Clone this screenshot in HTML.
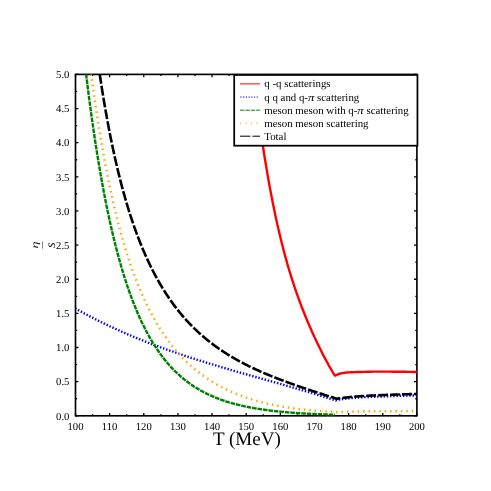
<!DOCTYPE html>
<html><head><meta charset="utf-8"><title>eta/s vs T</title>
<style>html,body{margin:0;padding:0;background:#fff;}body{width:491px;height:491px;position:relative;overflow:hidden;font-family:"Liberation Serif",serif;}svg{position:absolute;left:0;top:0;display:block;will-change:transform;}text{text-rendering:geometricPrecision;}</style></head><body>
<svg width="491" height="491" viewBox="0 0 491 491">
<rect x="0" y="0" width="491" height="491" fill="#fff"/>
<defs><clipPath id="c"><rect x="75.5" y="74.4" width="341.40" height="341.40"/></clipPath></defs>
<path d="M75.50 415.8 v-2.9 M75.50 74.4 v2.9 M92.57 415.8 v-1.6 M92.57 74.4 v1.6 M109.64 415.8 v-2.9 M109.64 74.4 v2.9 M126.71 415.8 v-1.6 M126.71 74.4 v1.6 M143.78 415.8 v-2.9 M143.78 74.4 v2.9 M160.85 415.8 v-1.6 M160.85 74.4 v1.6 M177.92 415.8 v-2.9 M177.92 74.4 v2.9 M194.99 415.8 v-1.6 M194.99 74.4 v1.6 M212.06 415.8 v-2.9 M212.06 74.4 v2.9 M229.13 415.8 v-1.6 M229.13 74.4 v1.6 M246.20 415.8 v-2.9 M246.20 74.4 v2.9 M263.27 415.8 v-1.6 M263.27 74.4 v1.6 M280.34 415.8 v-2.9 M280.34 74.4 v2.9 M297.41 415.8 v-1.6 M297.41 74.4 v1.6 M314.48 415.8 v-2.9 M314.48 74.4 v2.9 M331.55 415.8 v-1.6 M331.55 74.4 v1.6 M348.62 415.8 v-2.9 M348.62 74.4 v2.9 M365.69 415.8 v-1.6 M365.69 74.4 v1.6 M382.76 415.8 v-2.9 M382.76 74.4 v2.9 M399.83 415.8 v-1.6 M399.83 74.4 v1.6 M416.90 415.8 v-2.9 M416.90 74.4 v2.9 M75.5 415.80 h2.9 M416.9 415.80 h-2.9 M75.5 398.73 h1.6 M416.9 398.73 h-1.6 M75.5 381.66 h2.9 M416.9 381.66 h-2.9 M75.5 364.59 h1.6 M416.9 364.59 h-1.6 M75.5 347.52 h2.9 M416.9 347.52 h-2.9 M75.5 330.45 h1.6 M416.9 330.45 h-1.6 M75.5 313.38 h2.9 M416.9 313.38 h-2.9 M75.5 296.31 h1.6 M416.9 296.31 h-1.6 M75.5 279.24 h2.9 M416.9 279.24 h-2.9 M75.5 262.17 h1.6 M416.9 262.17 h-1.6 M75.5 245.10 h2.9 M416.9 245.10 h-2.9 M75.5 228.03 h1.6 M416.9 228.03 h-1.6 M75.5 210.96 h2.9 M416.9 210.96 h-2.9 M75.5 193.89 h1.6 M416.9 193.89 h-1.6 M75.5 176.82 h2.9 M416.9 176.82 h-2.9 M75.5 159.75 h1.6 M416.9 159.75 h-1.6 M75.5 142.68 h2.9 M416.9 142.68 h-2.9 M75.5 125.61 h1.6 M416.9 125.61 h-1.6 M75.5 108.54 h2.9 M416.9 108.54 h-2.9 M75.5 91.47 h1.6 M416.9 91.47 h-1.6 M75.5 74.40 h2.9 M416.9 74.40 h-2.9" stroke="#000" stroke-width="1.3" fill="none"/>
<rect x="75.5" y="74.4" width="341.40" height="341.40" fill="none" stroke="#000" stroke-width="1.65" stroke-linejoin="miter"/>
<g clip-path="url(#c)" fill="none" stroke-linejoin="round">
<path d="M253.26 74.00 L253.30 74.37 L253.60 76.85 L253.90 79.32 L254.19 81.77 L254.49 84.19 L254.78 86.60 L255.08 89.00 L255.38 91.37 L255.67 93.73 L255.97 96.06 L256.26 98.38 L256.56 100.69 L256.86 102.97 L257.15 105.24 L257.45 107.49 L257.74 109.72 L258.04 111.94 L258.34 114.14 L258.63 116.32 L258.93 118.49 L259.22 120.63 L259.52 122.77 L259.82 124.88 L260.11 126.98 L260.41 129.06 L260.70 131.13 L261.00 133.18 L261.30 135.21 L261.59 137.23 L261.89 139.23 L262.18 141.21 L262.48 143.18 L262.78 145.14 L263.07 147.08 L263.37 149.00 L263.66 150.91 L263.96 152.80 L264.26 154.68 L264.55 156.54 L264.85 158.39 L265.14 160.22 L265.44 162.04 L265.74 163.85 L266.03 165.64 L266.33 167.41 L266.62 169.17 L266.92 170.92 L267.22 172.65 L267.51 174.37 L267.81 176.08 L268.10 177.77 L268.40 179.45 L268.69 181.12 L268.99 182.77 L269.29 184.41 L269.58 186.04 L269.88 187.65 L270.17 189.25 L270.47 190.84 L270.77 192.41 L271.06 193.98 L271.36 195.53 L271.65 197.06 L271.95 198.59 L272.25 200.10 L272.54 201.61 L272.84 203.10 L273.13 204.57 L273.43 206.04 L273.73 207.50 L274.02 208.94 L274.32 210.37 L274.61 211.79 L274.91 213.20 L275.21 214.60 L275.50 215.99 L275.80 217.37 L276.09 218.74 L276.39 220.09 L276.69 221.44 L276.98 222.78 L277.28 224.10 L277.57 225.42 L277.87 226.72 L278.17 228.02 L278.46 229.30 L278.76 230.58 L279.05 231.84 L279.35 233.10 L279.65 234.35 L279.94 235.59 L280.24 236.81 L280.53 238.03 L280.83 239.24 L281.13 240.45 L281.42 241.64 L281.72 242.82 L282.01 244.00 L282.31 245.16 L282.61 246.32 L282.90 247.47 L283.20 248.61 L283.49 249.74 L283.79 250.87 L284.09 251.99 L284.38 253.09 L284.68 254.20 L284.97 255.29 L285.27 256.37 L285.57 257.45 L285.86 258.52 L286.16 259.58 L286.45 260.64 L286.75 261.69 L287.05 262.73 L287.34 263.76 L287.64 264.79 L287.93 265.81 L288.23 266.82 L288.53 267.83 L288.82 268.83 L289.12 269.82 L289.41 270.81 L289.71 271.79 L290.01 272.76 L290.30 273.73 L290.60 274.69 L290.89 275.64 L291.19 276.59 L291.49 277.53 L291.78 278.47 L292.08 279.40 L292.37 280.33 L292.67 281.25 L292.97 282.16 L293.26 283.07 L293.56 283.97 L293.85 284.87 L294.15 285.76 L294.45 286.64 L294.74 287.52 L295.04 288.40 L295.33 289.27 L295.63 290.13 L295.93 291.00 L296.22 291.85 L296.52 292.70 L296.81 293.55 L297.11 294.39 L297.41 295.22 L297.70 296.05 L298.00 296.88 L298.29 297.70 L298.59 298.52 L298.89 299.33 L299.18 300.14 L299.48 300.95 L299.77 301.75 L300.07 302.54 L300.37 303.33 L300.66 304.12 L300.96 304.91 L301.25 305.69 L301.55 306.46 L301.85 307.23 L302.14 308.00 L302.44 308.76 L302.73 309.52 L303.03 310.28 L303.33 311.03 L303.62 311.78 L303.92 312.53 L304.21 313.27 L304.51 314.01 L304.81 314.74 L305.10 315.48 L305.40 316.20 L305.69 316.93 L305.99 317.65 L306.29 318.37 L306.58 319.08 L306.88 319.80 L307.17 320.50 L307.47 321.21 L307.77 321.91 L308.06 322.61 L308.36 323.31 L308.65 324.00 L308.95 324.69 L309.25 325.38 L309.54 326.06 L309.84 326.75 L310.13 327.42 L310.43 328.10 L310.73 328.77 L311.02 329.44 L311.32 330.11 L311.61 330.78 L311.91 331.44 L312.21 332.10 L312.50 332.76 L312.80 333.41 L313.09 334.06 L313.39 334.71 L313.68 335.36 L313.98 336.00 L314.28 336.65 L314.57 337.29 L314.87 337.92 L315.16 338.56 L315.46 339.19 L315.76 339.82 L316.05 340.45 L316.35 341.07 L316.64 341.69 L316.94 342.32 L317.24 342.93 L317.53 343.55 L317.83 344.16 L318.12 344.77 L318.42 345.38 L318.72 345.99 L319.01 346.59 L319.31 347.20 L319.60 347.80 L319.90 348.39 L320.20 348.99 L320.49 349.58 L320.79 350.17 L321.08 350.76 L321.38 351.35 L321.68 351.93 L321.97 352.52 L322.27 353.10 L322.56 353.67 L322.86 354.25 L323.16 354.82 L323.45 355.40 L323.75 355.96 L324.04 356.53 L324.34 357.10 L324.64 357.66 L324.93 358.22 L325.23 358.78 L325.52 359.33 L325.82 359.89 L326.12 360.44 L326.41 360.99 L326.71 361.54 L327.00 362.08 L327.30 362.63 L327.60 363.17 L327.89 363.70 L328.19 364.24 L328.48 364.77 L328.78 365.31 L329.08 365.84 L329.37 366.36 L329.67 366.89 L329.96 367.41 L330.26 367.93 L330.56 368.45 L330.85 368.97 L331.15 369.48 L331.44 369.99 L331.74 370.50 L332.04 371.00 L332.33 371.51 L332.63 372.01 L332.92 372.51 L333.22 373.01 L333.52 373.50 L333.81 373.99 L334.11 374.48 L334.40 374.97 L334.70 375.45 L335.53 375.59 L336.36 375.07 L337.19 374.65 L338.02 374.28 L338.85 373.97 L339.68 373.72 L340.51 373.50 L341.34 373.30 L342.17 373.12 L343.00 372.96 L343.83 372.83 L344.66 372.72 L345.49 372.64 L346.32 372.57 L347.15 372.51 L347.98 372.45 L348.82 372.39 L349.65 372.35 L350.48 372.30 L351.31 372.26 L352.14 372.22 L352.97 372.18 L353.80 372.15 L354.63 372.12 L355.46 372.09 L356.29 372.06 L357.12 372.04 L357.95 372.01 L358.78 371.99 L359.61 371.97 L360.44 371.95 L361.27 371.93 L362.10 371.91 L362.93 371.90 L363.76 371.88 L364.59 371.86 L365.42 371.84 L366.25 371.82 L367.08 371.80 L367.91 371.78 L368.74 371.75 L369.57 371.73 L370.40 371.71 L371.23 371.69 L372.06 371.67 L372.89 371.65 L373.72 371.63 L374.55 371.62 L375.38 371.61 L376.22 371.60 L377.05 371.60 L377.88 371.60 L378.71 371.60 L379.54 371.60 L380.37 371.60 L381.20 371.61 L382.03 371.61 L382.86 371.61 L383.69 371.62 L384.52 371.62 L385.35 371.63 L386.18 371.63 L387.01 371.64 L387.84 371.64 L388.67 371.65 L389.50 371.66 L390.33 371.66 L391.16 371.67 L391.99 371.68 L392.82 371.68 L393.65 371.69 L394.48 371.70 L395.31 371.70 L396.14 371.71 L396.97 371.72 L397.80 371.72 L398.63 371.73 L399.46 371.74 L400.29 371.75 L401.12 371.76 L401.95 371.77 L402.78 371.78 L403.62 371.79 L404.45 371.80 L405.28 371.81 L406.11 371.82 L406.94 371.84 L407.77 371.85 L408.60 371.86 L409.43 371.87 L410.26 371.89 L411.09 371.90 L411.92 371.91 L412.75 371.93 L413.58 371.94 L414.41 371.96 L415.24 371.97 L416.07 371.99 L416.90 372.00" stroke="#ff0000" stroke-width="2.4"/>
<path d="M75.50 308.54 L76.37 309.03 L77.24 309.52 L78.11 310.00 L78.98 310.48 L79.85 310.96 L80.72 311.44 L81.59 311.92 L82.46 312.39 L83.34 312.87 L84.21 313.34 L85.08 313.80 L85.95 314.27 L86.82 314.73 L87.69 315.19 L88.56 315.65 L89.43 316.11 L90.30 316.56 L91.17 317.02 L92.04 317.47 L92.91 317.92 L93.78 318.36 L94.65 318.81 L95.52 319.25 L96.39 319.69 L97.26 320.13 L98.13 320.56 L99.01 321.00 L99.88 321.43 L100.75 321.86 L101.62 322.29 L102.49 322.72 L103.36 323.14 L104.23 323.56 L105.10 323.98 L105.97 324.40 L106.84 324.82 L107.71 325.23 L108.58 325.65 L109.45 326.06 L110.32 326.47 L111.19 326.87 L112.06 327.28 L112.93 327.68 L113.81 328.09 L114.68 328.49 L115.55 328.88 L116.42 329.28 L117.29 329.67 L118.16 330.07 L119.03 330.46 L119.90 330.85 L120.77 331.24 L121.64 331.62 L122.51 332.01 L123.38 332.39 L124.25 332.77 L125.12 333.15 L125.99 333.53 L126.86 333.90 L127.73 334.28 L128.60 334.65 L129.48 335.02 L130.35 335.39 L131.22 335.76 L132.09 336.12 L132.96 336.49 L133.83 336.85 L134.70 337.21 L135.57 337.57 L136.44 337.93 L137.31 338.29 L138.18 338.64 L139.05 339.00 L139.92 339.35 L140.79 339.70 L141.66 340.05 L142.53 340.40 L143.40 340.74 L144.27 341.09 L145.15 341.43 L146.02 341.77 L146.89 342.11 L147.76 342.45 L148.63 342.79 L149.50 343.13 L150.37 343.46 L151.24 343.79 L152.11 344.13 L152.98 344.46 L153.85 344.79 L154.72 345.12 L155.59 345.44 L156.46 345.77 L157.33 346.09 L158.20 346.42 L159.07 346.74 L159.95 347.06 L160.82 347.38 L161.69 347.69 L162.56 348.01 L163.43 348.33 L164.30 348.64 L165.17 348.95 L166.04 349.27 L166.91 349.58 L167.78 349.89 L168.65 350.19 L169.52 350.50 L170.39 350.81 L171.26 351.11 L172.13 351.42 L173.00 351.72 L173.87 352.02 L174.74 352.32 L175.62 352.62 L176.49 352.92 L177.36 353.22 L178.23 353.51 L179.10 353.81 L179.97 354.10 L180.84 354.40 L181.71 354.69 L182.58 354.98 L183.45 355.27 L184.32 355.56 L185.19 355.85 L186.06 356.14 L186.93 356.42 L187.80 356.71 L188.67 356.99 L189.54 357.28 L190.42 357.56 L191.29 357.84 L192.16 358.12 L193.03 358.40 L193.90 358.68 L194.77 358.96 L195.64 359.24 L196.51 359.51 L197.38 359.79 L198.25 360.07 L199.12 360.34 L199.99 360.61 L200.86 360.89 L201.73 361.16 L202.60 361.43 L203.47 361.70 L204.34 361.97 L205.21 362.24 L206.09 362.51 L206.96 362.78 L207.83 363.04 L208.70 363.31 L209.57 363.57 L210.44 363.84 L211.31 364.10 L212.18 364.37 L213.05 364.63 L213.92 364.89 L214.79 365.16 L215.66 365.42 L216.53 365.68 L217.40 365.94 L218.27 366.20 L219.14 366.46 L220.01 366.72 L220.88 366.97 L221.76 367.23 L222.63 367.49 L223.50 367.74 L224.37 368.00 L225.24 368.26 L226.11 368.51 L226.98 368.77 L227.85 369.02 L228.72 369.27 L229.59 369.53 L230.46 369.78 L231.33 370.03 L232.20 370.28 L233.07 370.54 L233.94 370.79 L234.81 371.04 L235.68 371.29 L236.56 371.54 L237.43 371.79 L238.30 372.04 L239.17 372.29 L240.04 372.54 L240.91 372.79 L241.78 373.03 L242.65 373.28 L243.52 373.53 L244.39 373.78 L245.26 374.03 L246.13 374.27 L247.00 374.52 L247.87 374.77 L248.74 375.01 L249.61 375.26 L250.48 375.51 L251.35 375.75 L252.23 376.00 L253.10 376.24 L253.97 376.49 L254.84 376.73 L255.71 376.98 L256.58 377.23 L257.45 377.47 L258.32 377.72 L259.19 377.96 L260.06 378.21 L260.93 378.45 L261.80 378.70 L262.67 378.94 L263.54 379.19 L264.41 379.43 L265.28 379.68 L266.15 379.92 L267.03 380.17 L267.90 380.41 L268.77 380.66 L269.64 380.90 L270.51 381.15 L271.38 381.39 L272.25 381.64 L273.12 381.88 L273.99 382.13 L274.86 382.37 L275.73 382.62 L276.60 382.87 L277.47 383.11 L278.34 383.36 L279.21 383.60 L280.08 383.85 L280.95 384.10 L281.82 384.34 L282.70 384.59 L283.57 384.84 L284.44 385.09 L285.31 385.33 L286.18 385.58 L287.05 385.83 L287.92 386.08 L288.79 386.33 L289.66 386.58 L290.53 386.83 L291.40 387.08 L292.27 387.33 L293.14 387.58 L294.01 387.83 L294.88 388.08 L295.75 388.33 L296.62 388.59 L297.49 388.84 L298.37 389.09 L299.24 389.34 L300.11 389.60 L300.98 389.85 L301.85 390.11 L302.72 390.36 L303.59 390.62 L304.46 390.87 L305.33 391.13 L306.20 391.39 L307.07 391.64 L307.94 391.90 L308.81 392.16 L309.68 392.42 L310.55 392.68 L311.42 392.94 L312.29 393.20 L313.17 393.46 L314.04 393.72 L314.91 393.99 L315.78 394.25 L316.65 394.51 L317.52 394.78 L318.39 395.04 L319.26 395.31 L320.13 395.58 L321.00 395.84 L321.87 396.11 L322.74 396.38 L323.61 396.65 L324.48 396.92 L325.35 397.19 L326.22 397.46 L327.09 397.73 L327.96 398.00 L328.84 398.28 L329.71 398.55 L330.58 398.83 L331.45 399.10 L332.32 399.38 L333.19 399.66 L334.06 399.94 L334.93 400.22 L335.80 400.50 L336.62 399.97 L337.44 399.84 L338.26 399.71 L339.08 399.58 L339.90 399.46 L340.72 399.34 L341.53 399.23 L342.35 399.12 L343.17 399.01 L343.99 398.91 L344.81 398.81 L345.63 398.72 L346.45 398.63 L347.27 398.54 L348.09 398.45 L348.91 398.36 L349.73 398.28 L350.55 398.20 L351.36 398.11 L352.18 398.04 L353.00 397.96 L353.82 397.89 L354.64 397.81 L355.46 397.75 L356.28 397.68 L357.10 397.61 L357.92 397.55 L358.74 397.50 L359.56 397.44 L360.38 397.39 L361.19 397.34 L362.01 397.29 L362.83 397.25 L363.65 397.20 L364.47 397.16 L365.29 397.12 L366.11 397.08 L366.93 397.04 L367.75 397.00 L368.57 396.96 L369.39 396.93 L370.21 396.89 L371.03 396.86 L371.84 396.82 L372.66 396.79 L373.48 396.76 L374.30 396.73 L375.12 396.70 L375.94 396.66 L376.76 396.63 L377.58 396.60 L378.40 396.57 L379.22 396.54 L380.04 396.51 L380.86 396.48 L381.67 396.45 L382.49 396.42 L383.31 396.38 L384.13 396.35 L384.95 396.32 L385.77 396.30 L386.59 396.27 L387.41 396.24 L388.23 396.21 L389.05 396.18 L389.87 396.15 L390.69 396.12 L391.51 396.09 L392.32 396.07 L393.14 396.04 L393.96 396.01 L394.78 395.98 L395.60 395.96 L396.42 395.93 L397.24 395.91 L398.06 395.88 L398.88 395.85 L399.70 395.83 L400.52 395.81 L401.34 395.78 L402.15 395.76 L402.97 395.73 L403.79 395.71 L404.61 395.69 L405.43 395.67 L406.25 395.64 L407.07 395.62 L407.89 395.60 L408.71 395.58 L409.53 395.56 L410.35 395.54 L411.17 395.52 L411.98 395.50 L412.80 395.48 L413.62 395.47 L414.44 395.45 L415.26 395.43 L416.08 395.42 L416.90 395.40" stroke="#0000ff" stroke-width="2.4" stroke-dasharray="1.45 1.77" stroke-dashoffset="0.4"/>
<path d="M86.09 74.00 L86.78 79.65 L87.65 86.63 L88.51 93.46 L89.38 100.14 L90.25 106.67 L91.12 113.05 L91.98 119.29 L92.85 125.39 L93.72 131.36 L94.59 137.19 L95.45 142.90 L96.32 148.48 L97.19 153.94 L98.06 159.28 L98.92 164.51 L99.79 169.62 L100.66 174.62 L101.53 179.51 L102.39 184.29 L103.26 188.98 L104.13 193.56 L105.00 198.04 L105.86 202.43 L106.73 206.72 L107.60 210.92 L108.47 215.03 L109.33 219.05 L110.20 222.99 L111.07 226.85 L111.94 230.62 L112.81 234.32 L113.67 237.93 L114.54 241.47 L115.41 244.94 L116.28 248.33 L117.14 251.65 L118.01 254.90 L118.88 258.09 L119.75 261.21 L120.61 264.26 L121.48 267.25 L122.35 270.18 L123.22 273.05 L124.08 275.86 L124.95 278.61 L125.82 281.30 L126.69 283.94 L127.55 286.53 L128.42 289.06 L129.29 291.54 L130.16 293.97 L131.02 296.35 L131.89 298.68 L132.76 300.96 L133.63 303.20 L134.49 305.39 L135.36 307.54 L136.23 309.65 L137.10 311.71 L137.96 313.73 L138.83 315.71 L139.70 317.65 L140.57 319.55 L141.43 321.42 L142.30 323.24 L143.17 325.03 L144.04 326.78 L144.90 328.50 L145.77 330.19 L146.64 331.84 L147.51 333.46 L148.37 335.04 L149.24 336.60 L150.11 338.12 L150.98 339.62 L151.85 341.08 L152.71 342.52 L153.58 343.92 L154.45 345.30 L155.32 346.65 L156.18 347.98 L157.05 349.28 L157.92 350.55 L158.79 351.80 L159.65 353.03 L160.52 354.23 L161.39 355.40 L162.26 356.56 L163.12 357.69 L163.99 358.80 L164.86 359.89 L165.73 360.96 L166.59 362.00 L167.46 363.03 L168.33 364.03 L169.20 365.02 L170.06 365.99 L170.93 366.94 L171.80 367.87 L172.67 368.78 L173.53 369.68 L174.40 370.55 L175.27 371.42 L176.14 372.26 L177.00 373.09 L177.87 373.90 L178.74 374.70 L179.61 375.48 L180.47 376.24 L181.34 377.00 L182.21 377.73 L183.08 378.46 L183.94 379.17 L184.81 379.86 L185.68 380.54 L186.55 381.21 L187.42 381.87 L188.28 382.51 L189.15 383.15 L190.02 383.77 L190.89 384.37 L191.75 384.97 L192.62 385.56 L193.49 386.13 L194.36 386.69 L195.22 387.25 L196.09 387.79 L196.96 388.32 L197.83 388.84 L198.69 389.35 L199.56 389.86 L200.43 390.35 L201.30 390.83 L202.16 391.31 L203.03 391.77 L203.90 392.23 L204.77 392.68 L205.63 393.12 L206.50 393.55 L207.37 393.97 L208.24 394.39 L209.10 394.80 L209.97 395.20 L210.84 395.59 L211.71 395.97 L212.57 396.35 L213.44 396.72 L214.31 397.08 L215.18 397.44 L216.04 397.79 L216.91 398.14 L217.78 398.47 L218.65 398.80 L219.51 399.13 L220.38 399.45 L221.25 399.76 L222.12 400.07 L222.98 400.37 L223.85 400.66 L224.72 400.95 L225.59 401.24 L226.46 401.52 L227.32 401.79 L228.19 402.06 L229.06 402.32 L229.93 402.58 L230.79 402.84 L231.66 403.09 L232.53 403.33 L233.40 403.57 L234.26 403.81 L235.13 404.04 L236.00 404.27 L236.87 404.49 L237.73 404.71 L238.60 404.92 L239.47 405.13 L240.34 405.34 L241.20 405.54 L242.07 405.74 L242.94 405.94 L243.81 406.13 L244.67 406.32 L245.54 406.50 L246.41 406.68 L247.28 406.86 L248.14 407.04 L249.01 407.21 L249.88 407.37 L250.75 407.54 L251.61 407.70 L252.48 407.86 L253.35 408.02 L254.22 408.17 L255.08 408.32 L255.95 408.47 L256.82 408.61 L257.69 408.75 L258.55 408.89 L259.42 409.03 L260.29 409.16 L261.16 409.30 L262.03 409.43 L262.89 409.55 L263.76 409.68 L264.63 409.80 L265.50 409.92 L266.36 410.04 L267.23 410.15 L268.10 410.27 L268.97 410.38 L269.83 410.49 L270.70 410.59 L271.57 410.70 L272.44 410.80 L273.30 410.90 L274.17 411.00 L275.04 411.10 L275.91 411.20 L276.77 411.29 L277.64 411.38 L278.51 411.47 L279.38 411.56 L280.24 411.65 L281.11 411.73 L281.98 411.82 L282.85 411.90 L283.71 411.98 L284.58 412.06 L285.45 412.14 L286.32 412.21 L287.18 412.29 L288.05 412.36 L288.92 412.43 L289.79 412.50 L290.65 412.57 L291.52 412.64 L292.39 412.71 L293.26 412.77 L294.12 412.84 L294.99 412.90 L295.86 412.96 L296.73 413.02 L297.59 413.08 L298.46 413.14 L299.33 413.20 L300.20 413.25 L301.07 413.31 L301.93 413.36 L302.80 413.41 L303.67 413.47 L304.54 413.52 L305.40 413.57 L306.27 413.62 L307.14 413.66 L308.01 413.71 L308.87 413.76 L309.74 413.80 L310.61 413.85 L311.48 413.89 L312.34 413.93 L313.21 413.97 L314.08 414.02 L314.95 414.06 L315.81 414.09 L316.68 414.13 L317.55 414.17 L318.42 414.21 L319.28 414.24 L320.15 414.28 L321.02 414.32 L321.89 414.35 L322.75 414.38 L323.62 414.42 L324.49 414.45 L325.36 414.48 L326.22 414.51 L327.09 414.54 L327.96 414.57 L328.83 414.60 L329.69 414.63 L330.56 414.66 L331.43 414.68 L332.30 414.71 L333.16 414.74 L334.03 414.76 L334.90 414.79" stroke="#008000" stroke-width="2.4" stroke-dasharray="4.6 0.9" stroke-dashoffset="0"/>
<path d="M91.18 74.00 L91.99 80.10 L92.86 86.50 L93.73 92.75 L94.59 98.87 L95.46 104.85 L96.33 110.70 L97.20 116.42 L98.07 122.01 L98.93 127.48 L99.80 132.83 L100.67 138.07 L101.54 143.19 L102.40 148.20 L103.27 153.10 L104.14 157.90 L105.01 162.59 L105.88 167.18 L106.74 171.68 L107.61 176.08 L108.48 180.39 L109.35 184.60 L110.22 188.73 L111.08 192.77 L111.95 196.73 L112.82 200.61 L113.69 204.40 L114.56 208.12 L115.42 211.76 L116.29 215.33 L117.16 218.82 L118.03 222.24 L118.89 225.60 L119.76 228.88 L120.63 232.10 L121.50 235.26 L122.37 238.35 L123.23 241.38 L124.10 244.35 L124.97 247.26 L125.84 250.12 L126.71 252.92 L127.57 255.66 L128.44 258.35 L129.31 260.99 L130.18 263.58 L131.05 266.12 L131.91 268.61 L132.78 271.05 L133.65 273.45 L134.52 275.80 L135.38 278.11 L136.25 280.37 L137.12 282.59 L137.99 284.77 L138.86 286.91 L139.72 289.01 L140.59 291.08 L141.46 293.10 L142.33 295.09 L143.20 297.04 L144.06 298.95 L144.93 300.83 L145.80 302.68 L146.67 304.49 L147.54 306.28 L148.40 308.03 L149.27 309.75 L150.14 311.43 L151.01 313.09 L151.87 314.72 L152.74 316.33 L153.61 317.90 L154.48 319.45 L155.35 320.97 L156.21 322.46 L157.08 323.93 L157.95 325.37 L158.82 326.79 L159.69 328.19 L160.55 329.56 L161.42 330.91 L162.29 332.23 L163.16 333.54 L164.03 334.82 L164.89 336.08 L165.76 337.32 L166.63 338.54 L167.50 339.74 L168.36 340.92 L169.23 342.08 L170.10 343.22 L170.97 344.35 L171.84 345.45 L172.70 346.54 L173.57 347.61 L174.44 348.66 L175.31 349.70 L176.18 350.72 L177.04 351.72 L177.91 352.71 L178.78 353.68 L179.65 354.64 L180.52 355.58 L181.38 356.51 L182.25 357.42 L183.12 358.32 L183.99 359.21 L184.85 360.08 L185.72 360.94 L186.59 361.78 L187.46 362.61 L188.33 363.43 L189.19 364.24 L190.06 365.03 L190.93 365.82 L191.80 366.59 L192.67 367.35 L193.53 368.09 L194.40 368.83 L195.27 369.55 L196.14 370.27 L197.01 370.97 L197.87 371.66 L198.74 372.35 L199.61 373.02 L200.48 373.68 L201.34 374.33 L202.21 374.97 L203.08 375.61 L203.95 376.23 L204.82 376.84 L205.68 377.45 L206.55 378.04 L207.42 378.63 L208.29 379.21 L209.16 379.78 L210.02 380.34 L210.89 380.89 L211.76 381.44 L212.63 381.98 L213.49 382.51 L214.36 383.03 L215.23 383.54 L216.10 384.05 L216.97 384.54 L217.83 385.03 L218.70 385.52 L219.57 385.99 L220.44 386.46 L221.31 386.93 L222.17 387.38 L223.04 387.83 L223.91 388.27 L224.78 388.71 L225.65 389.14 L226.51 389.56 L227.38 389.98 L228.25 390.39 L229.12 390.79 L229.98 391.19 L230.85 391.58 L231.72 391.97 L232.59 392.35 L233.46 392.72 L234.32 393.09 L235.19 393.45 L236.06 393.81 L236.93 394.17 L237.80 394.51 L238.66 394.85 L239.53 395.19 L240.40 395.52 L241.27 395.85 L242.14 396.17 L243.00 396.49 L243.87 396.80 L244.74 397.11 L245.61 397.41 L246.47 397.71 L247.34 398.00 L248.21 398.29 L249.08 398.57 L249.95 398.85 L250.81 399.13 L251.68 399.40 L252.55 399.66 L253.42 399.93 L254.29 400.18 L255.15 400.44 L256.02 400.69 L256.89 400.93 L257.76 401.18 L258.63 401.41 L259.49 401.65 L260.36 401.88 L261.23 402.11 L262.10 402.33 L262.96 402.55 L263.83 402.77 L264.70 402.98 L265.57 403.19 L266.44 403.39 L267.30 403.59 L268.17 403.79 L269.04 403.99 L269.91 404.18 L270.78 404.37 L271.64 404.56 L272.51 404.74 L273.38 404.92 L274.25 405.10 L275.12 405.27 L275.98 405.44 L276.85 405.61 L277.72 405.77 L278.59 405.94 L279.45 406.09 L280.32 406.25 L281.19 406.41 L282.06 406.56 L282.93 406.70 L283.79 406.85 L284.66 406.99 L285.53 407.13 L286.40 407.27 L287.27 407.41 L288.13 407.54 L289.00 407.67 L289.87 407.80 L290.74 407.93 L291.61 408.05 L292.47 408.17 L293.34 408.29 L294.21 408.41 L295.08 408.53 L295.94 408.64 L296.81 408.75 L297.68 408.86 L298.55 408.97 L299.42 409.07 L300.28 409.17 L301.15 409.27 L302.02 409.37 L302.89 409.47 L303.76 409.57 L304.62 409.66 L305.49 409.75 L306.36 409.84 L307.23 409.93 L308.10 410.02 L308.96 410.10 L309.83 410.18 L310.70 410.26 L311.57 410.34 L312.43 410.42 L313.30 410.50 L314.17 410.57 L315.04 410.65 L315.91 410.72 L316.77 410.79 L317.64 410.86 L318.51 410.92 L319.38 410.99 L320.25 411.05 L321.11 411.12 L321.98 411.18 L322.85 411.24 L323.72 411.30 L324.59 411.36 L325.45 411.41 L326.32 411.47 L327.19 411.52 L328.06 411.58 L328.92 411.63 L329.79 411.68 L330.66 411.73 L331.53 411.77 L332.40 411.82 L333.26 411.87 L334.13 411.91 L335.00 411.95 L335.83 412.27 L336.65 412.24 L337.48 412.21 L338.31 412.18 L339.14 412.14 L339.96 412.11 L340.79 412.09 L341.62 412.06 L342.45 412.03 L343.27 412.00 L344.10 411.97 L344.93 411.95 L345.75 411.92 L346.58 411.90 L347.41 411.87 L348.24 411.85 L349.06 411.82 L349.89 411.80 L350.72 411.78 L351.55 411.76 L352.37 411.74 L353.20 411.72 L354.03 411.70 L354.85 411.68 L355.68 411.66 L356.51 411.64 L357.34 411.61 L358.16 411.59 L358.99 411.58 L359.82 411.56 L360.65 411.54 L361.47 411.52 L362.30 411.50 L363.13 411.48 L363.95 411.46 L364.78 411.45 L365.61 411.43 L366.44 411.42 L367.26 411.40 L368.09 411.39 L368.92 411.37 L369.75 411.36 L370.57 411.35 L371.40 411.34 L372.23 411.33 L373.05 411.32 L373.88 411.31 L374.71 411.30 L375.54 411.30 L376.36 411.29 L377.19 411.28 L378.02 411.28 L378.85 411.27 L379.67 411.26 L380.50 411.26 L381.33 411.25 L382.15 411.24 L382.98 411.24 L383.81 411.23 L384.64 411.23 L385.46 411.22 L386.29 411.22 L387.12 411.21 L387.95 411.20 L388.77 411.20 L389.60 411.19 L390.43 411.19 L391.25 411.18 L392.08 411.18 L392.91 411.17 L393.74 411.17 L394.56 411.16 L395.39 411.16 L396.22 411.16 L397.05 411.15 L397.87 411.15 L398.70 411.14 L399.53 411.14 L400.35 411.14 L401.18 411.13 L402.01 411.13 L402.84 411.13 L403.66 411.12 L404.49 411.12 L405.32 411.12 L406.15 411.12 L406.97 411.11 L407.80 411.11 L408.63 411.11 L409.45 411.11 L410.28 411.11 L411.11 411.10 L411.94 411.10 L412.76 411.10 L413.59 411.10 L414.42 411.10 L415.25 411.10 L416.07 411.10 L416.90 411.10" stroke="#ffa500" stroke-width="2.5" stroke-dasharray="1.5 3.9" stroke-dashoffset="0.1"/>
<path d="M99.68 74.00 L99.88 75.30 L100.75 81.05 L101.62 86.66 L102.49 92.13 L103.36 97.47 L104.23 102.68 L105.10 107.77 L105.97 112.74 L106.84 117.59 L107.71 122.33 L108.58 126.96 L109.45 131.49 L110.32 135.92 L111.19 140.24 L112.06 144.47 L112.93 148.60 L113.81 152.65 L114.68 156.60 L115.55 160.47 L116.42 164.26 L117.29 167.96 L118.16 171.59 L119.03 175.14 L119.90 178.62 L120.77 182.02 L121.64 185.35 L122.51 188.62 L123.38 191.81 L124.25 194.95 L125.12 198.02 L125.99 201.03 L126.86 203.98 L127.73 206.87 L128.60 209.70 L129.48 212.48 L130.35 215.21 L131.22 217.88 L132.09 220.50 L132.96 223.08 L133.83 225.60 L134.70 228.08 L135.57 230.51 L136.44 232.90 L137.31 235.24 L138.18 237.54 L139.05 239.80 L139.92 242.02 L140.79 244.20 L141.66 246.34 L142.53 248.44 L143.40 250.50 L144.27 252.53 L145.15 254.53 L146.02 256.49 L146.89 258.41 L147.76 260.31 L148.63 262.17 L149.50 264.00 L150.37 265.80 L151.24 267.57 L152.11 269.31 L152.98 271.02 L153.85 272.70 L154.72 274.36 L155.59 275.99 L156.46 277.59 L157.33 279.17 L158.20 280.72 L159.07 282.25 L159.95 283.75 L160.82 285.23 L161.69 286.69 L162.56 288.13 L163.43 289.54 L164.30 290.93 L165.17 292.30 L166.04 293.65 L166.91 294.98 L167.78 296.29 L168.65 297.58 L169.52 298.85 L170.39 300.10 L171.26 301.34 L172.13 302.55 L173.00 303.75 L173.87 304.93 L174.74 306.10 L175.62 307.24 L176.49 308.38 L177.36 309.49 L178.23 310.59 L179.10 311.67 L179.97 312.74 L180.84 313.80 L181.71 314.83 L182.58 315.86 L183.45 316.87 L184.32 317.87 L185.19 318.85 L186.06 319.82 L186.93 320.78 L187.80 321.72 L188.67 322.65 L189.54 323.57 L190.42 324.48 L191.29 325.38 L192.16 326.26 L193.03 327.13 L193.90 327.99 L194.77 328.84 L195.64 329.68 L196.51 330.51 L197.38 331.33 L198.25 332.14 L199.12 332.93 L199.99 333.72 L200.86 334.50 L201.73 335.27 L202.60 336.02 L203.47 336.77 L204.34 337.51 L205.21 338.24 L206.09 338.97 L206.96 339.68 L207.83 340.38 L208.70 341.08 L209.57 341.77 L210.44 342.45 L211.31 343.12 L212.18 343.78 L213.05 344.44 L213.92 345.09 L214.79 345.73 L215.66 346.36 L216.53 346.99 L217.40 347.61 L218.27 348.22 L219.14 348.83 L220.01 349.43 L220.88 350.02 L221.76 350.60 L222.63 351.18 L223.50 351.76 L224.37 352.32 L225.24 352.88 L226.11 353.44 L226.98 353.99 L227.85 354.53 L228.72 355.07 L229.59 355.60 L230.46 356.12 L231.33 356.64 L232.20 357.16 L233.07 357.67 L233.94 358.17 L234.81 358.67 L235.68 359.17 L236.56 359.66 L237.43 360.14 L238.30 360.62 L239.17 361.10 L240.04 361.57 L240.91 362.04 L241.78 362.50 L242.65 362.96 L243.52 363.41 L244.39 363.86 L245.26 364.31 L246.13 364.75 L247.00 365.19 L247.87 365.62 L248.74 366.05 L249.61 366.48 L250.48 366.90 L251.35 367.32 L252.23 367.73 L253.10 368.14 L253.97 368.55 L254.84 368.96 L255.71 369.36 L256.58 369.76 L257.45 370.15 L258.32 370.55 L259.19 370.94 L260.06 371.32 L260.93 371.71 L261.80 372.09 L262.67 372.47 L263.54 372.84 L264.41 373.21 L265.28 373.58 L266.15 373.95 L267.03 374.32 L267.90 374.68 L268.77 375.04 L269.64 375.40 L270.51 375.75 L271.38 376.10 L272.25 376.45 L273.12 376.80 L273.99 377.15 L274.86 377.49 L275.73 377.84 L276.60 378.18 L277.47 378.52 L278.34 378.85 L279.21 379.19 L280.08 379.52 L280.95 379.85 L281.82 380.18 L282.70 380.51 L283.57 380.84 L284.44 381.16 L285.31 381.48 L286.18 381.81 L287.05 382.13 L287.92 382.45 L288.79 382.76 L289.66 383.08 L290.53 383.39 L291.40 383.71 L292.27 384.02 L293.14 384.33 L294.01 384.64 L294.88 384.95 L295.75 385.26 L296.62 385.56 L297.49 385.87 L298.37 386.17 L299.24 386.47 L300.11 386.78 L300.98 387.08 L301.85 387.38 L302.72 387.68 L303.59 387.97 L304.46 388.27 L305.33 388.57 L306.20 388.86 L307.07 389.16 L307.94 389.45 L308.81 389.74 L309.68 390.03 L310.55 390.32 L311.42 390.61 L312.29 390.90 L313.17 391.19 L314.04 391.48 L314.91 391.77 L315.78 392.05 L316.65 392.34 L317.52 392.62 L318.39 392.91 L319.26 393.19 L320.13 393.47 L321.00 393.75 L321.87 394.03 L322.74 394.31 L323.61 394.59 L324.48 394.87 L325.35 395.15 L326.22 395.42 L327.09 395.70 L327.96 395.97 L328.84 396.25 L329.71 396.52 L330.58 396.79 L331.45 397.07 L332.32 397.34 L333.19 397.61 L334.06 397.87 L334.93 398.14 L335.80 398.41 L336.62 398.77 L337.44 398.64 L338.26 398.51 L339.08 398.38 L339.90 398.26 L340.72 398.14 L341.53 398.03 L342.35 397.92 L343.17 397.81 L343.99 397.71 L344.81 397.61 L345.63 397.52 L346.45 397.43 L347.27 397.34 L348.09 397.25 L348.91 397.17 L349.73 397.08 L350.55 397.00 L351.36 396.92 L352.18 396.85 L353.00 396.77 L353.82 396.70 L354.64 396.63 L355.46 396.56 L356.28 396.49 L357.10 396.43 L357.92 396.36 L358.74 396.30 L359.56 396.24 L360.38 396.19 L361.19 396.13 L362.01 396.08 L362.83 396.03 L363.65 395.98 L364.47 395.93 L365.29 395.88 L366.11 395.84 L366.93 395.79 L367.75 395.75 L368.57 395.70 L369.39 395.66 L370.21 395.62 L371.03 395.58 L371.84 395.54 L372.66 395.50 L373.48 395.47 L374.30 395.43 L375.12 395.39 L375.94 395.36 L376.76 395.32 L377.58 395.29 L378.40 395.26 L379.22 395.22 L380.04 395.19 L380.86 395.15 L381.67 395.12 L382.49 395.08 L383.31 395.05 L384.13 395.02 L384.95 394.99 L385.77 394.95 L386.59 394.92 L387.41 394.89 L388.23 394.86 L389.05 394.82 L389.87 394.79 L390.69 394.76 L391.51 394.73 L392.32 394.70 L393.14 394.67 L393.96 394.64 L394.78 394.61 L395.60 394.58 L396.42 394.55 L397.24 394.53 L398.06 394.50 L398.88 394.47 L399.70 394.44 L400.52 394.42 L401.34 394.39 L402.15 394.37 L402.97 394.34 L403.79 394.32 L404.61 394.29 L405.43 394.27 L406.25 394.25 L407.07 394.22 L407.89 394.20 L408.71 394.18 L409.53 394.16 L410.35 394.14 L411.17 394.12 L411.98 394.10 L412.80 394.08 L413.62 394.06 L414.44 394.05 L415.26 394.03 L416.08 394.02 L416.90 394.00" stroke="#000000" stroke-width="2.6" stroke-dasharray="9.9 2.05" stroke-dashoffset="0.0"/>
</g>
<g font-family="Liberation Serif, serif" font-size="10.7" fill="#000">
<text x="75.50" y="430.3" text-anchor="middle">100</text>
<text x="109.64" y="430.3" text-anchor="middle">110</text>
<text x="143.78" y="430.3" text-anchor="middle">120</text>
<text x="177.92" y="430.3" text-anchor="middle">130</text>
<text x="212.06" y="430.3" text-anchor="middle">140</text>
<text x="246.20" y="430.3" text-anchor="middle">150</text>
<text x="280.34" y="430.3" text-anchor="middle">160</text>
<text x="314.48" y="430.3" text-anchor="middle">170</text>
<text x="348.62" y="430.3" text-anchor="middle">180</text>
<text x="382.76" y="430.3" text-anchor="middle">190</text>
<text x="416.90" y="430.3" text-anchor="middle">200</text>
<text x="69.4" y="419.50" text-anchor="end">0.0</text>
<text x="69.4" y="385.36" text-anchor="end">0.5</text>
<text x="69.4" y="351.22" text-anchor="end">1.0</text>
<text x="69.4" y="317.08" text-anchor="end">1.5</text>
<text x="69.4" y="282.94" text-anchor="end">2.0</text>
<text x="69.4" y="248.80" text-anchor="end">2.5</text>
<text x="69.4" y="214.66" text-anchor="end">3.0</text>
<text x="69.4" y="180.52" text-anchor="end">3.5</text>
<text x="69.4" y="146.38" text-anchor="end">4.0</text>
<text x="69.4" y="112.24" text-anchor="end">4.5</text>
<text x="69.4" y="78.10" text-anchor="end">5.0</text>
</g>
<text x="246.9" y="445.4" text-anchor="middle" font-family="Liberation Serif, serif" font-size="19.05">T (MeV)</text>
<g transform="translate(0,245.0) rotate(-90)" font-family="Liberation Serif, serif" font-style="italic" text-anchor="middle" fill="#222">
<text x="0" y="37.8" font-size="9.9" transform="scale(1.45,1)">η</text><path d="M-3.65 42.5 H3.65" stroke="#333" stroke-width="0.6"/><text x="0" y="54.7" font-size="14" transform="scale(1.06,1)">s</text></g>
<rect x="234.2" y="74.95" width="183.25" height="70.75" fill="#fff" stroke="#000" stroke-width="1.75"/>
<path d="M240.0 83.9 H260.0" stroke="#ff0000" stroke-width="1" fill="none"/>
<text x="264.3" y="87.40" font-family="Liberation Serif, serif" font-size="10.85">q -q scatterings</text>
<path d="M240.3 97.05 H258.0" stroke="#0000ff" stroke-width="1" stroke-dasharray="1.2 1.52" fill="none"/>
<text x="264.3" y="100.55" font-family="Liberation Serif, serif" font-size="10.85">q q and q-<tspan font-style='italic' textLength='6.4' lengthAdjust='spacingAndGlyphs'>π</tspan> scattering</text>
<path d="M240.0 110.2 H260.0" stroke="#008000" stroke-width="1" stroke-dasharray="4.4 1.0" fill="none"/>
<text x="264.3" y="113.70" font-family="Liberation Serif, serif" font-size="10.85">meson meson with q-<tspan font-style='italic' textLength='6.4' lengthAdjust='spacingAndGlyphs'>π</tspan> scattering</text>
<path d="M240.0 123.25 H260.0" stroke="#ffa500" stroke-width="1" stroke-dasharray="1.2 4.2" fill="none"/>
<text x="264.3" y="126.75" font-family="Liberation Serif, serif" font-size="10.85">meson meson scattering</text>
<path d="M240.0 136.2 H260.0" stroke="#000" stroke-width="1" stroke-dasharray="10.4 2.0" fill="none"/>
<text x="264.3" y="139.70" font-family="Liberation Serif, serif" font-size="10.85">Total</text>
</svg>
</body></html>
